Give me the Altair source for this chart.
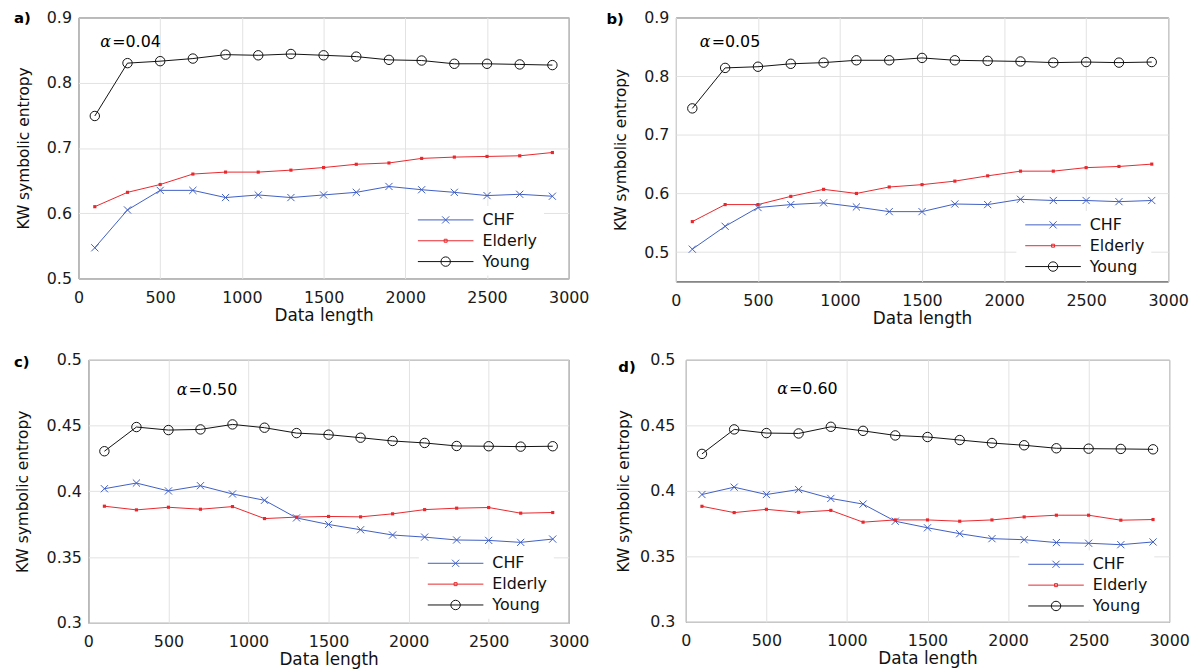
import altair as alt
import pandas as pd

# ---------------- data ----------------
lengths = [100, 300, 500, 700, 900, 1100, 1300, 1500, 1700, 1900, 2100, 2300, 2500, 2700, 2900]
series_names = ["CHF", "Elderly", "Young"]

a_chf = [0.547, 0.605, 0.635, 0.635, 0.624, 0.628, 0.624, 0.628, 0.632, 0.641, 0.636, 0.632, 0.627, 0.629, 0.626]
a_eld = [0.610, 0.632, 0.644, 0.660, 0.663, 0.663, 0.666, 0.670, 0.675, 0.677, 0.684, 0.686, 0.687, 0.688, 0.693]
a_yng = [0.749, 0.830, 0.833, 0.837, 0.843, 0.842, 0.844, 0.842, 0.840, 0.835, 0.834, 0.829, 0.829, 0.828, 0.827]

b_chf = [0.505, 0.544, 0.576, 0.581, 0.584, 0.577, 0.569, 0.569, 0.582, 0.581, 0.590, 0.588, 0.588, 0.586, 0.588]
b_eld = [0.552, 0.581, 0.581, 0.595, 0.607, 0.600, 0.611, 0.615, 0.621, 0.630, 0.638, 0.638, 0.644, 0.646, 0.650]
b_yng = [0.745, 0.814, 0.816, 0.821, 0.823, 0.827, 0.827, 0.831, 0.827, 0.826, 0.825, 0.823, 0.824, 0.823, 0.824]

c_chf = [0.4020, 0.4063, 0.4003, 0.4043, 0.3980, 0.3932, 0.3798, 0.3748, 0.3708, 0.3668, 0.3652, 0.3630, 0.3627, 0.3612, 0.3637]
c_eld = [0.3887, 0.3859, 0.3879, 0.3864, 0.3884, 0.3793, 0.3804, 0.3809, 0.3806, 0.3829, 0.3861, 0.3872, 0.3877, 0.3834, 0.3839]
c_yng = [0.4305, 0.4489, 0.4466, 0.4471, 0.4509, 0.4484, 0.4443, 0.4431, 0.4408, 0.4383, 0.4368, 0.4345, 0.4343, 0.4340, 0.4343]

d_chf = [0.3972, 0.4028, 0.3972, 0.4010, 0.3942, 0.3899, 0.3768, 0.3718, 0.3673, 0.3635, 0.3627, 0.3605, 0.3600, 0.3589, 0.3610]
d_eld = [0.3882, 0.3834, 0.3859, 0.3836, 0.3851, 0.3761, 0.3778, 0.3778, 0.3768, 0.3778, 0.3801, 0.3814, 0.3814, 0.3776, 0.3781]
d_yng = [0.4282, 0.4469, 0.4441, 0.4438, 0.4489, 0.4458, 0.4423, 0.4411, 0.4388, 0.4365, 0.4348, 0.4325, 0.4322, 0.4320, 0.4317]

x_ticks = [0, 500, 1000, 1500, 2000, 2500, 3000]
y_ticks_ab = [0.5, 0.6, 0.7, 0.8, 0.9]
y_ticks_cd = [0.3, 0.35, 0.4, 0.45, 0.5]

# ---------------- style ----------------
FONT = "DejaVu Sans"
COLORS = ["#3f5fc4", "#e8282d", "#111111"]
X_PATH = "M-1,-1L1,1M-1,1L1,-1"
# legend symbols: line + marker (unit = 5px with symbolSize 100)
LEG_PATHS = [
    "M-1,0H10.2M3.88,-0.72L5.32,0.72M3.88,0.72L5.32,-0.72",
    "M-1,0H10.2M4.3,-0.3H4.9V0.3H4.3Z",
    "M-1,0H10.2M5.55,0A0.95,0.95,0,1,1,3.65,0A0.95,0.95,0,1,1,5.55,0",
]


def panel(chf, eld, yng, ydomain, yticks, alpha_txt, letter, cfg):
    df = pd.DataFrame({
        "length": lengths * 3,
        "value": chf + eld + yng,
        "series": [s for s in series_names for _ in lengths],
    })
    x = alt.X("length:Q", scale=alt.Scale(domain=[0, 3000], nice=False),
              axis=alt.Axis(values=x_ticks, format="d", title="Data length",
                            titleFontSize=17, titlePadding=2, labelFlush=False, labelPadding=11))
    y = alt.Y("value:Q", scale=alt.Scale(domain=ydomain, nice=False, zero=False),
              axis=alt.Axis(values=yticks, format="~g", title="KW symbolic entropy",
                            titleFontSize=15.5, titlePadding=cfg["tpad"], labelPadding=cfg["lpad"]))
    base = alt.Chart(df).encode(x=x, y=y)
    layers = []
    for name, col in zip(series_names, COLORS):
        layers.append(base.transform_filter(alt.datum.series == name)
                      .mark_line(color=col, strokeWidth=1))
    layers.append(base.transform_filter(alt.datum.series == "CHF")
                  .mark_point(shape=X_PATH, size=52, filled=False, color=COLORS[0], strokeWidth=1, opacity=1))
    layers.append(base.transform_filter(alt.datum.series == "Elderly")
                  .mark_point(shape="square", size=10, filled=True, color=COLORS[1], opacity=1))
    layers.append(base.transform_filter(alt.datum.series == "Young")
                  .mark_point(shape="circle", size=90, filled=False, color=COLORS[2], strokeWidth=1, opacity=1))

    leg = dict(orient="none", legendX=cfg["lx"], legendY=cfg["ly"], title=None,
               fillColor="white", padding=6, labelFont=FONT, labelFontSize=16,
               labelColor="#111111", labelOffset=52, symbolSize=100, rowPadding=5,
               symbolStrokeWidth=1)
    dummy = alt.Chart(df).transform_filter("false").mark_point(filled=False, strokeWidth=1).encode(
        color=alt.Color("series:N", scale=alt.Scale(domain=series_names, range=COLORS),
                        legend=alt.Legend(**leg)),
        shape=alt.Shape("series:N", scale=alt.Scale(domain=series_names, range=LEG_PATHS),
                        legend=alt.Legend(**leg)),
    )
    layers.append(dummy)

    one = pd.DataFrame({"t": [letter]})
    layers.append(alt.Chart(one).mark_text(font=FONT, fontSize=15, fontWeight="bold", align="left",
                                           baseline="middle", color="#000000")
                  .encode(text="t:N", x=alt.value(cfg["letx"]), y=alt.value(cfg["lety"])))
    al = pd.DataFrame({"t": ["\u03b1"]})
    layers.append(alt.Chart(al).mark_text(font="DejaVu Serif", fontSize=16, fontStyle="italic",
                                          align="left", baseline="middle", color="#000000")
                  .encode(text="t:N", x=alt.value(cfg["ax"]), y=alt.value(cfg["ay"])))
    av = pd.DataFrame({"t": ["=" + alpha_txt]})
    layers.append(alt.Chart(av).mark_text(font=FONT, fontSize=16, align="left",
                                          baseline="middle", color="#000000")
                  .encode(text="t:N", x=alt.value(cfg["ax"] + 12), y=alt.value(cfg["ay"])))

    return alt.layer(*layers).properties(width=cfg["w"], height=cfg["h"])


def spacer():
    return (alt.Chart(pd.DataFrame({"v": [0]}))
            .mark_rect(opacity=0)
            .encode(x=alt.value(0), x2=alt.value(1), y=alt.value(0), y2=alt.value(1))
            .properties(width=1, height=1,
                        view=alt.ViewBackground(stroke="transparent", fill="transparent")))


pa = panel(a_chf, a_eld, a_yng, [0.5, 0.9], y_ticks_ab, "0.04", "a)",
           dict(w=494, h=263, tpad=15, lpad=7, lx=333, ly=190, letx=-65, lety=0.5, ax=22, ay=25))
pb = panel(b_chf, b_eld, b_yng, [0.45, 0.9], y_ticks_ab, "0.05", "b)",
           dict(w=496, h=266, tpad=15, lpad=7, lx=343, ly=195, letx=-70, lety=1.5, ax=24, ay=25))
pc = panel(c_chf, c_eld, c_yng, [0.3, 0.5], y_ticks_cd, "0.50", "c)",
           dict(w=484, h=265, tpad=16, lpad=7, lx=333, ly=191, letx=-75, lety=2, ax=89, ay=30))
pd_ = panel(d_chf, d_eld, d_yng, [0.3, 0.5], y_ticks_cd, "0.60", "d)",
            dict(w=487, h=264, tpad=8.5, lpad=11, lx=336, ly=192, letx=-68, lety=7, ax=92, ay=29))

chart = (alt.concat(spacer(), pa, pb, spacer(), pc, pd_, columns=3, align="none",
                    spacing={"row": 24, "column": 16})
         .resolve_scale(color="independent", shape="independent")
         .properties(padding={"left": -14, "top": -2, "right": 0, "bottom": 0}, background="white")
         .configure_view(stroke="#262626", strokeWidth=1)
         .configure_axis(labelFont=FONT, labelFontSize=16, labelColor="#1a1a1a",
                         titleFont=FONT, titleFontWeight="normal", titleColor="#111111",
                         grid=True, gridColor="#e2e2e2", gridWidth=1, domain=False,
                         ticks=False)
         .configure_legend(symbolOpacity=1))

chart.save("out.html", embed_options={"renderer": "svg", "actions": False})
